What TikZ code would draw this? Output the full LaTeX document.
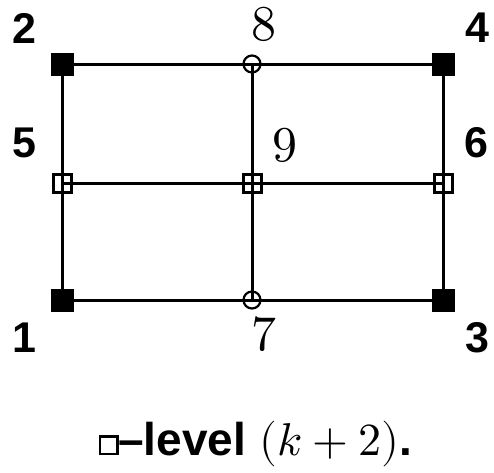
\documentclass[tikz,border=0pt]{standalone}
\usepackage{fontspec}
\usepackage{unicode-math}
\setmathfont{Latin Modern Math}
\newfontfamily\lab{Liberation Sans}
\begin{document}
\begin{tikzpicture}[x=1pt,y=-1pt,
  filled/.style={draw=none,fill=black,minimum size=23pt,inner sep=0pt},
  open/.style={draw,line width=3pt,minimum size=18pt,inner sep=0pt},
  ring/.style={circle,draw,line width=2.2pt,minimum size=17pt,inner sep=0pt},
  gridline/.style={line width=3pt},
  blab/.style={font=\fontsize{43}{43}\lab\bfseries,inner sep=0pt},
  slab/.style={font=\fontsize{50}{50}\selectfont,inner sep=0pt}]
\useasboundingbox (0,0) rectangle (494,472);
% nodes
\node[filled] (n2) at (62,64) {};
\node[filled] (n4) at (443,64) {};
\node[filled] (n1) at (62,300) {};
\node[filled] (n3) at (443,300) {};
\node[ring] (n8) at (252,64) {};
\node[ring] (n7) at (252,300) {};
\node[open] (n5) at (62,183) {};
\node[open] (n9) at (252,183) {};
\node[open] (n6) at (443,183) {};
% lines
\draw[gridline] (n2.center) -- (n8.center) -- (n4.center);
\draw[gridline] (n5.center) -- (n9.center) -- (n6.center);
\draw[gridline] (n1.center) -- (n7.center) -- (n3.center);
\draw[gridline] (n2.center) -- (n5.center) -- (n1.center);
\draw[gridline] (n8.center) -- (n9.center) -- (n7.center);
\draw[gridline] (n4.center) -- (n6.center) -- (n3.center);
% labels
\node[blab] (l2) at (24,28) {2};
\node[blab] (l4) at (477,28) {4};
\node[blab] (l5) at (24,143) {5};
\node[blab] (l6) at (476,143) {6};
\node[blab] (l1) at (24,338) {1};
\node[blab] (l3) at (477,338) {3};
\node[slab] (l8) at (264,24) {$8$};
\node[slab] (l9) at (285,145) {$9$};
\node[slab] (l7) at (264,334) {$7$};
% caption
\node[draw,line width=2.5pt,minimum size=17.5pt,inner sep=0pt] (sq) at (108.5,445) {};
\node[anchor=base west,inner sep=0pt,font=\fontsize{46}{46}\selectfont] (cap) at (118,455)
  {{\lab\bfseries –level} $(k+2)${\lab\bfseries .}};
\end{tikzpicture}
\end{document}
